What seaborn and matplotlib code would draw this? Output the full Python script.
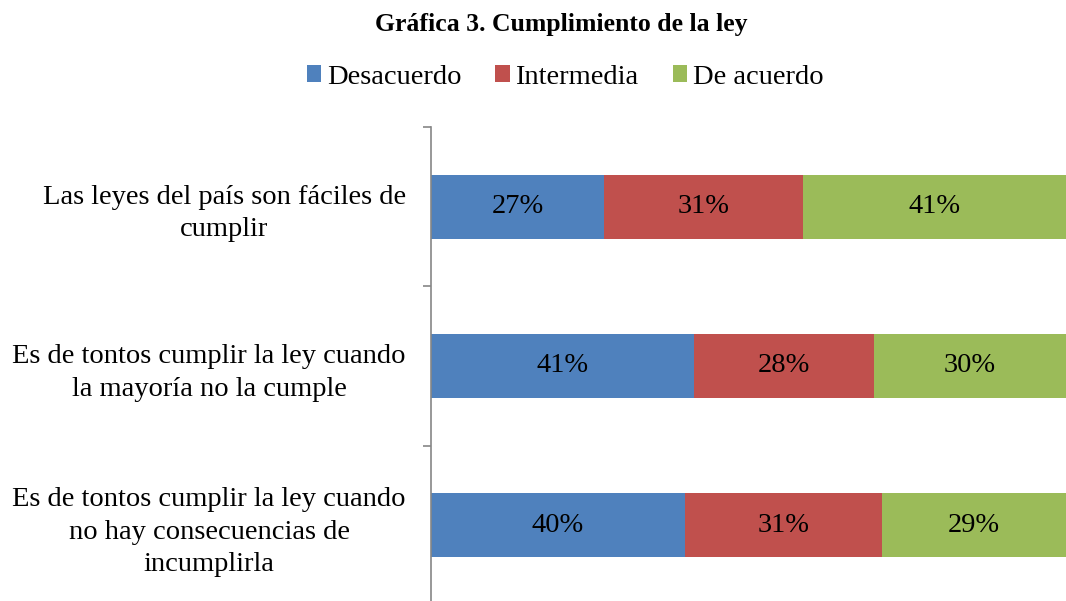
import matplotlib
matplotlib.use('Agg')
from matplotlib import pyplot as plt
import pandas as pd
import seaborn as sns

# Datos de la gráfica (porcentajes mostrados)
preguntas = ['Las leyes del país son fáciles de\ncumplir',
             'Es de tontos cumplir la ley cuando\nla mayoría no la cumple',
             'Es de tontos cumplir la ley cuando\nno hay consecuencias de\nincumplirla']
desacuerdo = [27, 41, 40]
intermedia = [31, 28, 31]
de_acuerdo = [41, 30, 29]
series = ['Desacuerdo', 'Intermedia', 'De acuerdo']
colores = ['#4F81BD', '#C0504D', '#9BBB59']

df = pd.DataFrame({'pregunta': preguntas, 'Desacuerdo': desacuerdo,
                   'Intermedia': intermedia, 'De acuerdo': de_acuerdo})

# Barras 100% apiladas: normalizar cada fila
total = df[series].sum(axis=1)
pct = df[series].div(total, axis=0) * 100
acum = pct.cumsum(axis=1)

sns.set_style('white')
plt.rcParams['font.family'] = ['Liberation Serif', 'DejaVu Serif']
plt.rcParams['text.color'] = 'black'
plt.rcParams['ytick.labelcolor'] = 'black'

fig = plt.figure(figsize=(10.66, 6.01), dpi=100)
ax = fig.add_axes([431 / 1066, -4 / 601, 635 / 1066, 478 / 601])

# Dibujar de la suma total hacia atrás para simular el apilado
for serie, color in reversed(list(zip(series, colores))):
    sns.barplot(x=acum[serie], y=df['pregunta'], color=color, width=0.4,
                orient='h', ax=ax, saturation=1, edgecolor='none', label=serie)

# Etiquetas de porcentaje dentro de cada segmento
for i in range(len(df)):
    inicio = 0
    for serie in series:
        fin = acum[serie].iloc[i]
        ax.text((inicio + fin) / 2, i, f'{df[serie].iloc[i]}%', ha='center',
                va='center', fontsize=20.5, color='black')
        inicio = fin

handles, labels = ax.get_legend_handles_labels()
if ax.get_legend() is not None:
    ax.get_legend().remove()

ax.set_xlim(0, 100)
ax.set_ylim(len(df) - 0.5, -0.5)
ax.set_xlabel('')
ax.set_ylabel('')
ax.set_xticks([])
for s in ['top', 'right', 'bottom']:
    ax.spines[s].set_visible(False)
ax.spines['left'].set_color('#868686')
ax.spines['left'].set_linewidth(1.2)

ax.set_yticks(range(len(df)))
ax.set_yticklabels(preguntas, fontsize=20.5, multialignment='center',
                   linespacing=1.4, color='black')
ax.set_yticks([i - 0.5 for i in range(len(df) + 1)], minor=True)
ax.tick_params(axis='y', which='major', length=0, pad=18)
ax.tick_params(axis='y', which='minor', length=6, width=1.2, color='#868686', left=True)

# Título y leyenda
fig.text(561 / 1066, 1 - 24 / 601, 'Gráfica 3. Cumplimiento de la ley',
         ha='center', va='center', fontsize=18.5, fontweight='bold', color='black')
orden = [labels.index(s) for s in series]
fig.legend([handles[k] for k in orden], [labels[k] for k in orden],
           loc='center', bbox_to_anchor=(565 / 1066, 1 - 77 / 601), ncol=3,
           frameon=False, fontsize=20.5, handlelength=0.5, handleheight=0.5,
           handletextpad=0.2, columnspacing=1.2)

fig.savefig('out.png', dpi=100)
